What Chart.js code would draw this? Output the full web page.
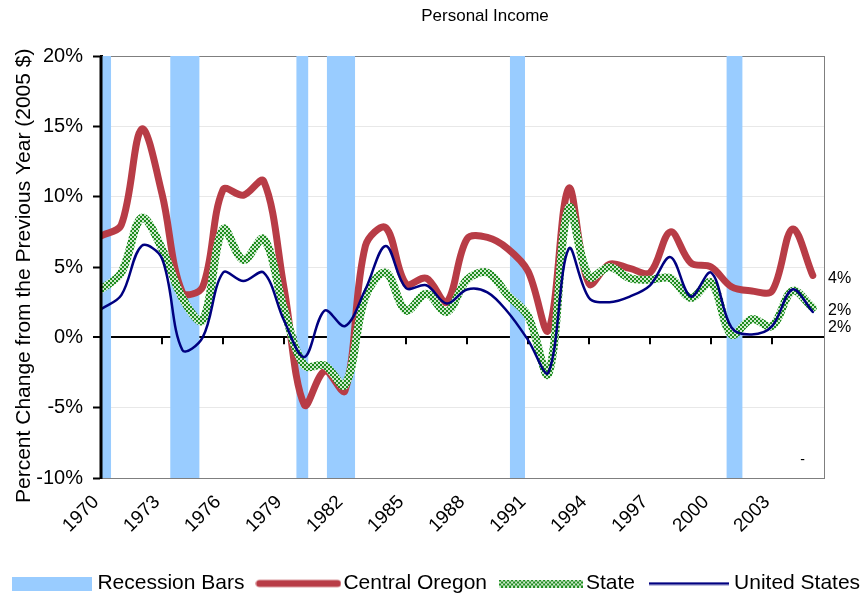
<!DOCTYPE html>
<html>
<head>
<meta charset="utf-8">
<title>Personal Income</title>
<script src="https://cdn.jsdelivr.net/npm/chart.js@4.4.1/dist/chart.umd.min.js"></script>
<style>
  html, body { margin: 0; padding: 0; background: #fff; }
  #wrap { width: 866px; height: 598px; }
</style>
</head>
<body>
<div id="wrap"><canvas id="chart" width="866" height="598"></canvas></div>
<script>
// Annual percent change in personal income (2005 dollars)
const years = [1970, 1971, 1972, 1973, 1974, 1975, 1976, 1977, 1978, 1979,
               1980, 1981, 1982, 1983, 1984, 1985, 1986, 1987, 1988, 1989,
               1990, 1991, 1992, 1993, 1994, 1995, 1996, 1997, 1998, 1999,
               2000, 2001, 2002, 2003, 2004, 2005];

const centralOregon = [7.2, 8.0, 14.8, 10.2, 3.2, 3.6, 10.5, 10.1, 11.1, 3.5,
                       -4.8, -2.4, -3.8, 6.5, 7.8, 3.8, 4.2, 2.5, 7.0, 7.1,
                       6.3, 4.7, 0.5, 10.6, 3.8, 5.2, 4.9, 4.6, 7.5, 5.3,
                       5.0, 3.6, 3.3, 3.3, 7.7, 4.4];

const stateValues = [3.4, 4.6, 8.5, 6.3, 2.8, 1.2, 7.7, 5.5, 7.0, 2.0,
                     -2.0, -2.0, -3.4, 2.9, 4.6, 1.9, 3.1, 1.8, 4.1, 4.6,
                     3.0, 1.5, -2.6, 9.2, 4.3, 5.0, 4.2, 4.1, 4.2, 2.8,
                     3.9, 0.2, 1.3, 0.8, 3.3, 2.1];

const unitedStates = [2.0, 3.0, 6.5, 5.6, -0.9, 0.0, 4.6, 4.0, 4.6, 1.2,
                      -1.4, 1.9, 0.8, 3.4, 6.5, 3.5, 3.7, 2.4, 3.4, 3.2,
                      1.8, -0.2, -2.5, 6.3, 2.8, 2.5, 2.9, 3.7, 5.7, 2.9,
                      4.6, 0.7, 0.2, 0.8, 3.4, 1.8];

// Recession periods (start / end, in fractional years)
const recessionStart = [1970.0, 1973.4, 1979.6, 1981.1, 1990.1, 2000.75];
const recessionEnd   = [1970.5, 1974.85, 1980.2, 1982.5, 1990.85, 2001.55];

// Axis ticks
const xTickYears = [1970, 1973, 1976, 1979, 1982, 1985, 1988, 1991, 1994, 1997, 2000, 2003];
const yTicks = [-10, -5, 0, 5, 10, 15, 20];

const Y_MIN = -10, Y_MAX = 20;
const X_MIN = 1970, X_MAX = 2005.6;

const FONT = "'Liberation Sans', Arial, Helvetica, sans-serif";
Chart.defaults.font.family = FONT;
Chart.defaults.color = '#000';

const COLORS = {
  recession: '#99CCFF',
  central: '#B83C46',
  stateDark: '#1E8C1E',
  stateLight: '#CFEACF',
  us: '#000080'
};

const canvas = document.getElementById('chart');
const mainCtx = canvas.getContext('2d');

// checkered fill used for the State series
function checkerTile(size) {
  const t = document.createElement('canvas');
  t.width = t.height = size * 2;
  const g = t.getContext('2d');
  g.fillStyle = COLORS.stateLight;
  g.fillRect(0, 0, size * 2, size * 2);
  g.fillStyle = COLORS.stateDark;
  g.fillRect(0, 0, size, size);
  g.fillRect(size, size, size, size);
  return t;
}
const statePattern = mainCtx.createPattern(checkerTile(2), 'repeat');

// legend swatches
function swatch(w, h, draw) {
  const c = document.createElement('canvas');
  c.width = w; c.height = h;
  draw(c.getContext('2d'), w, h);
  return c;
}
const swatches = [
  swatch(80, 14, (g, w, h) => { g.fillStyle = COLORS.recession; g.fillRect(0, 0, w, h); }),
  swatch(86, 10, (g, w, h) => {
    g.strokeStyle = COLORS.central; g.lineWidth = 7; g.lineCap = 'round';
    g.beginPath(); g.moveTo(4, h / 2); g.lineTo(w - 4, h / 2); g.stroke();
  }),
  swatch(84, 8, (g, w, h) => {
    g.fillStyle = g.createPattern(checkerTile(2), 'repeat'); g.fillRect(0, 0, w, h);
  }),
  swatch(80, 4, (g, w, h) => {
    g.strokeStyle = COLORS.us; g.lineWidth = 2.5;
    g.beginPath(); g.moveTo(0, h / 2); g.lineTo(w, h / 2); g.stroke();
  })
];

// recession shading: flat segments at the top of the scale, filled down to the bottom
const recessionPoints = [];
recessionStart.forEach((s, i) => {
  const e = recessionEnd[i];
  recessionPoints.push({ x: s, y: Y_MAX }, { x: e, y: Y_MAX });
  const next = i + 1 < recessionStart.length ? recessionStart[i + 1] : X_MAX;
  recessionPoints.push({ x: (e + next) / 2, y: null });
});

const toPoints = vals => years.map((yr, i) => ({ x: yr, y: vals[i] }));

const seriesLine = (label, vals, color, width, order) => ({
  label,
  data: toPoints(vals),
  yAxisID: 'y',
  borderColor: color,
  backgroundColor: color,
  borderWidth: width,
  pointRadius: 0,
  tension: 0.35,
  fill: false,
  borderCapStyle: 'round',
  borderJoinStyle: 'round',
  order
});

// plot frame, zero-axis tick marks, end-value labels, title
const annotate = {
  id: 'annotate',
  beforeDatasetsDraw(chart) {
    const { ctx, chartArea: a, scales: { x, y } } = chart;
    ctx.save();
    ctx.strokeStyle = '#7F7F7F';
    ctx.lineWidth = 1;
    ctx.strokeRect(a.left + 0.5, a.top + 0.5, a.right - a.left - 1, a.bottom - a.top);
    const y0 = y.getPixelForValue(0);
    ctx.strokeStyle = '#000';
    ctx.lineWidth = 2;
    ctx.beginPath();
    xTickYears.forEach(v => {
      const px = Math.round(x.getPixelForValue(v));
      ctx.moveTo(px, y0);
      ctx.lineTo(px, y0 + 7);
    });
    ctx.stroke();
    ctx.restore();
  },
  afterDatasetsDraw(chart) {
    const { ctx, chartArea: a, scales: { x, y } } = chart;
    ctx.save();
    // left value axis on top of the shading
    ctx.strokeStyle = '#000';
    ctx.lineWidth = 3;
    ctx.beginPath();
    ctx.moveTo(a.left, a.top);
    ctx.lineTo(a.left, a.bottom + 1);
    ctx.stroke();

    // last-value labels, stacked so they do not overlap
    const last = [centralOregon, stateValues, unitedStates]
      .map(arr => arr[arr.length - 1])
      .sort((p, q) => q - p);
    ctx.font = '16px ' + FONT;
    ctx.fillStyle = '#000';
    ctx.textAlign = 'left';
    ctx.textBaseline = 'middle';
    let prev = -Infinity;
    last.forEach(v => {
      let py = y.getPixelForValue(v) + 3;
      if (py < prev + 17) py = prev + 17;
      ctx.fillText(Math.round(v) + '%', a.right + 3, py);
      prev = py;
    });
    ctx.font = '14px ' + FONT;
    ctx.textAlign = 'center';
    ctx.fillText('-', x.getPixelForValue(2004.5), y.getPixelForValue(-8.7));
    ctx.restore();
  },
  afterDraw(chart) {
    const { ctx } = chart;
    ctx.save();
    ctx.font = '17px ' + FONT;
    ctx.fillStyle = '#000';
    ctx.textAlign = 'center';
    ctx.textBaseline = 'middle';
    ctx.fillText('Personal Income', 485, 16);
    ctx.restore();
  }
};

new Chart(canvas, {
  type: 'line',
  data: {
    datasets: [
      {
        label: 'Recession Bars',
        data: recessionPoints,
        yAxisID: 'y',
        borderColor: 'rgba(0,0,0,0)',
        backgroundColor: COLORS.recession,
        borderWidth: 0,
        pointRadius: 0,
        tension: 0,
        spanGaps: false,
        fill: 'start',
        order: 4
      },
      seriesLine('Central Oregon', centralOregon, COLORS.central, 7, 3),
      seriesLine('State', stateValues, statePattern, 8, 2),
      seriesLine('United States', unitedStates, COLORS.us, 2.5, 1)
    ]
  },
  options: {
    responsive: false,
    devicePixelRatio: 1,
    animation: false,
    events: [],
    layout: { padding: { left: -6, right: -18, top: 56, bottom: -6 } },
    scales: {
      x: {
        type: 'linear',
        min: X_MIN,
        max: X_MAX,
        afterBuildTicks: s => { s.ticks = xTickYears.map(v => ({ value: v })); },
        afterFit: s => { s.height = 75.5; },
        grid: { display: false, drawTicks: false },
        border: { display: false },
        ticks: {
          autoSkip: false,
          minRotation: 45,
          maxRotation: 45,
          padding: 13,
          labelOffset: -5,
          font: { size: 19 },
          color: '#000',
          callback: v => String(v)
        }
      },
      y: {
        min: Y_MIN,
        max: Y_MAX,
        afterBuildTicks: s => { s.ticks = yTicks.map(v => ({ value: v })); },
        afterFit: s => { s.width = 107; },
        grid: {
          color: c => c.tick.value === 0 ? '#000'
            : (c.tick.value === Y_MAX || c.tick.value === Y_MIN ? 'rgba(0,0,0,0)' : '#E8E8E8'),
          lineWidth: c => c.tick.value === 0 ? 2 : 1,
          tickColor: '#000',
          tickLength: 8,
          tickWidth: 2
        },
        border: { color: '#000', width: 3 },
        ticks: {
          padding: 10,
          font: { size: 20 },
          color: '#000',
          callback: v => v + '%'
        },
        title: {
          display: true,
          text: 'Percent Change from the Previous Year (2005 $)   ',
          font: { size: 21 },
          color: '#000',
          padding: { top: 17.4, bottom: 0 }
        }
      },
      // empty right-hand margin that holds the end-value labels
      yR: {
        position: 'right',
        display: true,
        afterFit: s => { s.width = 59; },
        ticks: { display: false },
        grid: { display: false, drawTicks: false },
        border: { display: false }
      }
    },
    plugins: {
      title: { display: false },
      tooltip: { enabled: false },
      legend: {
        position: 'bottom',
        labels: {
          usePointStyle: true,
          pointStyleWidth: 69,
          padding: 19.5,
          font: { size: 21 },
          color: '#000',
          generateLabels: chart => chart.data.datasets.map((ds, i) => ({
            text: ds.label,
            datasetIndex: i,
            pointStyle: swatches[i],
            fillStyle: 'rgba(0,0,0,0)',
            strokeStyle: 'rgba(0,0,0,0)',
            lineWidth: 0,
            hidden: false,
            rotation: 0
          }))
        }
      }
    }
  },
  plugins: [annotate]
});
</script>
</body>
</html>
